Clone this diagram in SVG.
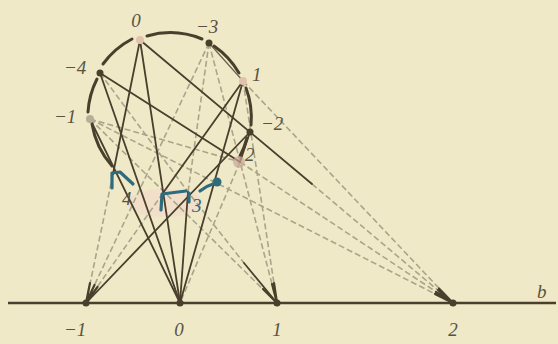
<svg xmlns="http://www.w3.org/2000/svg" width="558" height="344" viewBox="0 0 558 344">
<defs>
<style>
.bg{fill:#efe9c7}
.arc{fill:none;stroke:#4a3e2c;stroke-width:3;stroke-linecap:round}
.s{fill:none;stroke:#4a3e2c;stroke-width:1.8;stroke-linecap:round}
.tip{fill:none;stroke:#4a3e2c;stroke-width:2.2;stroke-linecap:round}
.t{fill:none;stroke:#6a604c;stroke-width:1.2}
.d{fill:none;stroke:#a9a58b;stroke-width:1.6;stroke-dasharray:6 3}
.base{stroke:#4a3e2c;stroke-width:2.6}
.pt{fill:#4a3e2c}
.pk{fill:#e3c2ad}
.bl{fill:none;stroke:#2e6b7c;stroke-width:3.2;stroke-linecap:round;stroke-linejoin:round}
.lab{font-family:"Liberation Serif",serif;font-style:italic;font-size:19px;fill:#5a5242}
.blab{font-family:"Liberation Serif",serif;font-style:italic;font-size:19px;fill:#2e6b7c}
</style>
</defs>
<rect class="bg" x="0" y="0" width="558" height="344"/>
<ellipse cx="165" cy="203" rx="38" ry="14" fill="#f1d9cc" opacity="0.6"/>

<g id="connectors">
  <!-- dashed lines -->
  <path class="d" d="M113,174 L86,303"/>
  <path class="d" d="M209,43 L86,303"/>
  <path class="d" d="M163,193 L86,303"/>
  <path class="d" d="M209,43 L188,192"/>
  <path class="d" d="M240,162 L180,303"/>
  <path class="d" d="M243,81 L277,303"/>
  <path class="d" d="M209,43 L277,303"/>
  <path class="d" d="M100,73 L188,192 L244,263"/>
  <path class="d" d="M90,119 L277,303"/>
  <path class="d" d="M312,184 L453,303"/>
  <path class="d" d="M240,162 L453,303"/>
  <path class="d" d="M243,81 L453,303"/>
  <path class="d" d="M90,119 L453,303"/>
  <path class="d" d="M90,119 L240,162"/>
  <!-- solid lines -->
  <path class="s" d="M140,40 L113,174"/>
  <path class="s" d="M243,81 L163,193"/>
  <path class="s" d="M250,132 L86,303"/>
  <path class="s" d="M100,73 L180,303"/>
  <path class="s" d="M90,119 L180,303"/>
  <path class="s" d="M140,40 L180,303"/>
  <path class="s" d="M188,192 L180,303"/>
  <path class="s" d="M243,81 L180,303"/>
  <path class="s" d="M250,132 L240,162"/>
  <path class="s" d="M244,263 L277,303"/>
  <path class="s" d="M140,40 L312,184"/>
  <path class="s" d="M100,73 L240,162"/>
  <path class="t" d="M209,43 L243,81"/>
  <!-- converging tips at the line b -->
  <path class="tip" d="M438,290 L453,303 M436,292 L453,303 M439,288.5 L453,303 M435,294 L453,303"/>
  <path class="tip" d="M274,283 L277,303 M272,284 L277,303 M263,289 L277,303"/>
  <path class="tip" d="M90,283 L86,303 M94.5,285 L86,303 M97.5,287 L86,303"/>
  <!-- circle arcs -->
  <path class="arc" d="M103,64 A84,84 0 0 1 132,39"/>
  <path class="arc" d="M147,36 A84,84 0 0 1 202,39"/>
  <path class="arc" d="M214,46 A84,84 0 0 1 239,73"/>
  <path class="arc" d="M246,88 A84,84 0 0 1 251,125"/>
  <path class="arc" d="M247,138 A84,84 0 0 1 240,156"/>
  <path class="arc" d="M97,79 A84,84 0 0 0 88,112"/>
  <path class="arc" d="M92,124 A84,84 0 0 0 112,166"/>
  <!-- baseline -->
  <line class="base" x1="8" y1="303" x2="556" y2="303"/>
</g>

<g id="p0"><circle class="pk" cx="140" cy="40" r="4"/><text class="lab" x="136" y="27" text-anchor="middle">0</text></g>
<g id="pm3"><circle class="pt" cx="209" cy="43" r="3.5"/><text class="lab" x="196" y="33">−3</text></g>
<g id="p1"><circle class="pk" cx="243" cy="81" r="4"/><text class="lab" x="252" y="81">1</text></g>
<g id="pm2"><circle class="pt" cx="250" cy="132" r="3.5"/><text class="lab" x="261" y="130">−2</text></g>
<g id="p2"><circle cx="239" cy="162" r="6" fill="#c8a898" opacity="0.7"/><text class="lab" x="245" y="161">2</text></g>
<g id="pm4"><circle class="pt" cx="100" cy="73" r="3.5"/><text class="lab" x="64" y="74">−4</text></g>
<g id="pm1"><circle cx="90" cy="119" r="4" fill="#b9ad98"/><text class="lab" x="54" y="123">−1</text></g>
<g id="q1"><path class="bl" d="M112,188 L112,173 L120,172 L133,184"/></g>
<g id="q4"><text class="lab" x="122" y="205">4</text></g>
<g id="q5"><path class="bl" d="M161,210 L162,194 L186,191"/></g>
<g id="q3"><path class="bl" d="M189,193 L189,202"/><text class="blab" x="192" y="212">3</text></g>
<g id="qb"><circle cx="217" cy="182" r="4.5" fill="#2e6b7c"/><path class="bl" d="M200,191 Q206,186 213,184" stroke-width="2.4"/></g>

<g id="bm1"><circle class="pt" cx="86" cy="303" r="3.5"/><text class="lab" x="64" y="336" font-size="20">−1</text></g>
<g id="b0"><circle class="pt" cx="180" cy="303" r="3.5"/><text class="lab" x="179" y="336" text-anchor="middle">0</text></g>
<g id="b1"><circle class="pt" cx="277" cy="303" r="3.5"/><text class="lab" x="277" y="336" text-anchor="middle">1</text></g>
<g id="b2"><circle class="pt" cx="453" cy="303" r="3.5"/><text class="lab" x="453" y="336" text-anchor="middle">2</text></g>
<g id="lineb"><text class="lab" x="537" y="298" font-size="21">b</text></g>
</svg>
